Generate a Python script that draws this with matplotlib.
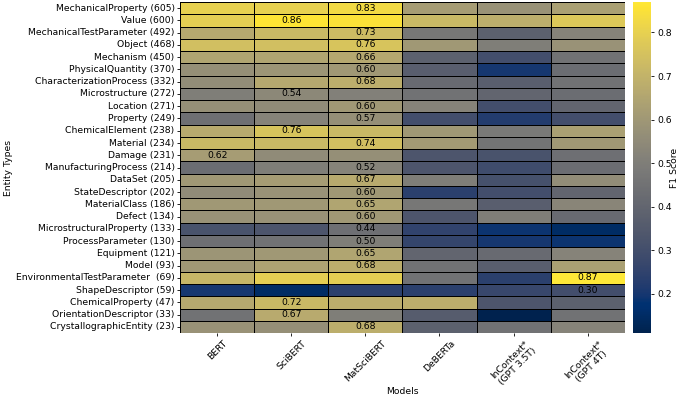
import numpy as np
import matplotlib
matplotlib.use("Agg")
import matplotlib.pyplot as plt
import seaborn as sns

# entity types (row labels) and models (column labels)
entities = [
    "MechanicalProperty (605)", "Value (600)", "MechanicalTestParameter (492)",
    "Object (468)", "Mechanism (450)", "PhysicalQuantity (370)",
    "CharacterizationProcess (332)", "Microstructure (272)", "Location (271)",
    "Property (249)", "ChemicalElement (238)", "Material (234)", "Damage (231)",
    "ManufacturingProcess (214)", "DataSet (205)", "StateDescriptor (202)",
    "MaterialClass (186)", "Defect (134)", "MicrostructuralProperty (133)",
    "ProcessParameter (130)", "Equipment (121)", "Model (93)",
    "EnvironmentalTestParameter  (69)", "ShapeDescriptor (59)",
    "ChemicalProperty (47)", "OrientationDescriptor (33)",
    "CrystallographicEntity (23)",
]
models = ["BERT", "SciBERT", "MatSciBERT", "DeBERTa",
          "InContext*\n(GPT 3.5T)", "InContext*\n(GPT 4T)"]

# F1 scores per model
bert = [0.80, 0.79, 0.66, 0.74, 0.65, 0.57, 0.56, 0.50, 0.57, 0.44, 0.67, 0.72, 0.62,
        0.43, 0.60, 0.55, 0.60, 0.58, 0.32, 0.44, 0.59, 0.60, 0.71, 0.20, 0.66, 0.45, 0.58]
scibert = [0.80, 0.86, 0.72, 0.74, 0.65, 0.59, 0.66, 0.54, 0.55, 0.52, 0.76, 0.72, 0.55,
           0.50, 0.62, 0.58, 0.60, 0.58, 0.33, 0.45, 0.60, 0.64, 0.79, 0.15, 0.72, 0.67, 0.57]
matscibert = [0.83, 0.85, 0.73, 0.76, 0.66, 0.60, 0.68, 0.51, 0.60, 0.57, 0.72, 0.74, 0.57,
              0.52, 0.67, 0.60, 0.65, 0.60, 0.44, 0.50, 0.65, 0.68, 0.79, 0.24, 0.68, 0.50, 0.68]
deberta = [0.62, 0.72, 0.47, 0.60, 0.38, 0.37, 0.42, 0.45, 0.52, 0.30, 0.60, 0.61, 0.33,
           0.33, 0.50, 0.24, 0.47, 0.33, 0.25, 0.26, 0.40, 0.45, 0.45, 0.24, 0.68, 0.36, 0.38]
gpt35 = [0.58, 0.68, 0.38, 0.50, 0.30, 0.20, 0.37, 0.40, 0.30, 0.22, 0.48, 0.46, 0.32,
         0.29, 0.31, 0.30, 0.37, 0.50, 0.19, 0.20, 0.42, 0.37, 0.24, 0.27, 0.33, 0.11, 0.45]
gpt4 = [0.63, 0.77, 0.52, 0.58, 0.45, 0.43, 0.45, 0.43, 0.40, 0.30, 0.63, 0.60, 0.44,
        0.43, 0.56, 0.40, 0.53, 0.42, 0.15, 0.19, 0.52, 0.63, 0.87, 0.30, 0.38, 0.45, 0.52]

data = np.array([bert, scibert, matscibert, deberta, gpt35, gpt4]).T

# only the best score in each row is written in the cell
annot = np.full(data.shape, "", dtype=object)
for i, row in enumerate(data):
    j = int(np.argmax(row))
    annot[i, j] = f"{row[j]:.2f}"

fs = 6.7
fig = plt.figure(figsize=(6.85, 3.97), dpi=100)
ax = fig.add_axes([0.263, 0.161, 0.649, 0.834])
cax = fig.add_axes([0.924, 0.161, 0.027, 0.834])

sns.heatmap(data, ax=ax, cbar_ax=cax, cmap="cividis", annot=annot, fmt="",
            annot_kws={"color": "black", "fontsize": fs},
            linewidths=0.5, linecolor="black",
            xticklabels=models, yticklabels=entities,
            cbar_kws={"label": "F1 Score"})

ax.set_xticklabels(models, rotation=45, ha="center", fontsize=fs)
ax.set_yticklabels(entities, rotation=0, fontsize=fs)
ax.tick_params(length=2.5, width=0.6, pad=1.5)
ax.set_xlabel("Models", fontsize=fs, labelpad=0)
ax.set_ylabel("Entity Types", fontsize=fs, labelpad=2)
cax.tick_params(labelsize=fs, length=2.5, width=0.6, pad=1.5)
cax.set_ylabel("F1 Score", fontsize=fs, labelpad=-1)

plt.savefig("out.png", dpi=100)
